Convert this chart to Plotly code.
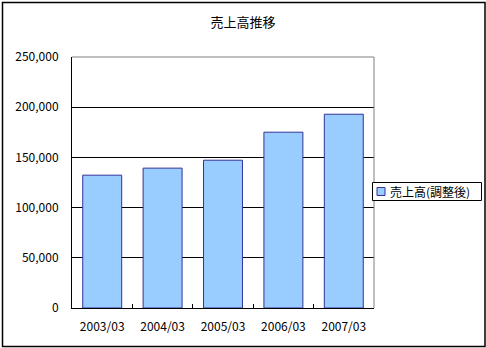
import plotly.graph_objects as go

categories = ["2003/03", "2004/03", "2005/03", "2006/03", "2007/03"]
sales = [132300, 139300, 147200, 175100, 193000]
series_name = "売上高(調整後)"
title_text = "売上高推移"

W, H = 486, 348
L, R, T, B = 72, 112, 57, 40
pw, ph = W - L - R, H - T - B

def px_x(x):
    return (x - L) / pw

def px_y(y):
    return (H - B - y) / ph

font = "Noto Sans CJK JP, Noto Sans, sans-serif"
bar_fill = "#99CCFF"
bar_edge = "#333399"

fig = go.Figure()
fig.add_trace(go.Bar(
    x=categories, y=sales, name=series_name,
    marker=dict(color=bar_fill, line=dict(color=bar_edge, width=1)),
    showlegend=False,
))

fig.update_layout(
    width=W, height=H,
    margin=dict(l=L, r=R, t=T, b=B, autoexpand=False),
    paper_bgcolor="white", plot_bgcolor="white",
    font=dict(family=font, size=12, color="black"),
    bargap=0.355,
    title=dict(text=title_text, x=0.5, xref="container", xanchor="center",
               y=1 - 22 / H, yref="container", yanchor="middle",
               font=dict(size=13, family=font, color="black")),
    showlegend=False,
    xaxis=dict(type="category", showline=True, linecolor="black", linewidth=1,
               ticks="inside", ticklen=4, tickcolor="black", tickson="boundaries",
               showgrid=False, tickfont=dict(size=12), ticklabelstandoff=8,
               fixedrange=True),
    yaxis=dict(range=[0, 250000], dtick=50000, tickformat=",d",
               showline=True, linecolor="black", linewidth=1,
               showgrid=True, gridcolor="black", gridwidth=1,
               zeroline=False, ticks="", ticklabelstandoff=10,
               tickfont=dict(size=12), fixedrange=True),
)

# gray top and right edges of plot area
fig.add_shape(type="line", xref="paper", yref="paper", x0=0, x1=1, y0=1, y1=1,
              line=dict(color="#808080", width=1))
fig.add_shape(type="line", xref="paper", yref="paper", x0=1, x1=1, y0=0, y1=1,
              line=dict(color="#808080", width=1))
# outer chart border
fig.add_shape(type="rect", xref="paper", yref="paper",
              x0=px_x(2.5), x1=px_x(485), y0=px_y(346.5), y1=px_y(2.5),
              line=dict(color="black", width=1.5), layer="above")

# legend (drawn manually to match the original compact box)
fig.add_shape(type="rect", xref="paper", yref="paper",
              x0=px_x(372.5), x1=px_x(481.5), y0=px_y(200.5), y1=px_y(182.5),
              line=dict(color="black", width=1), fillcolor="white", layer="above")
fig.add_shape(type="rect", xref="paper", yref="paper",
              x0=px_x(377), x1=px_x(385), y0=px_y(195.5), y1=px_y(187.5),
              line=dict(color=bar_edge, width=1), fillcolor=bar_fill, layer="above")
fig.add_annotation(xref="paper", yref="paper", x=px_x(388), y=px_y(191.5),
                   xanchor="left", yanchor="middle", showarrow=False,
                   text=series_name, font=dict(size=12, family=font, color="black"))

fig.write_html("out.html")
